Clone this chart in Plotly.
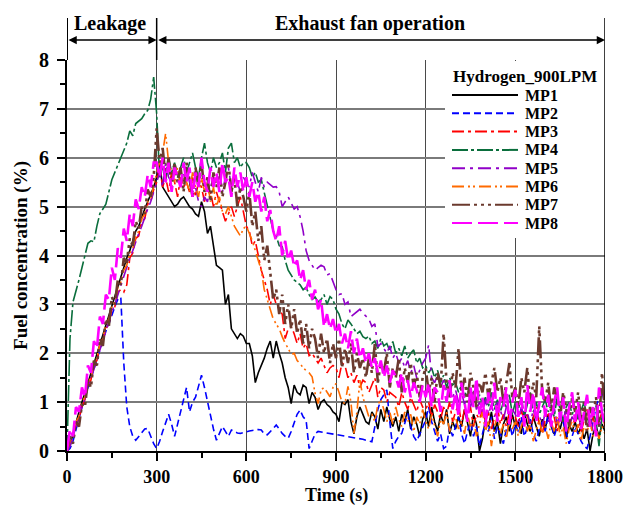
import plotly.graph_objects as go

# Sampling grid (s)
TIME_S = list(range(0, 1801, 10))

# Fuel concentration (%) at each measuring point, one value per 10 s
MP1 = [
    0.0, 0.1, 0.35, 0.6, 0.8, 1.0, 1.2, 1.4, 1.55, 1.8,
    2.0, 2.15, 2.35, 2.55, 2.8, 2.95, 3.2, 3.35, 3.55, 3.75,
    3.95, 4.1, 4.3, 4.5, 4.6, 4.8, 4.95, 5.1, 5.25, 5.4,
    5.6, 5.9, 5.4, 5.3, 5.2, 5.1, 5.0, 5.05, 5.15, 5.2,
    5.1, 5.0, 4.95, 4.85, 4.8, 5.1, 4.9, 4.45, 4.6, 4.2,
    3.8, 3.75, 3.7, 3.0, 3.2, 2.5, 2.4, 2.3, 2.4, 2.35,
    2.2, 2.2, 1.95, 1.4, 1.6, 1.75, 1.9, 2.1, 2.25, 1.9,
    2.25, 2.0, 1.8, 1.5, 1.3, 0.97, 1.35, 1.2, 1.15, 1.35,
    1.3, 0.97, 1.2, 1.1, 0.85, 1.0, 1.05, 0.95, 0.9, 0.8,
    0.75, 0.6, 1.0, 0.95, 1.05, 0.6, 0.35, 0.7, 0.9, 0.75,
    0.6, 0.55, 0.8, 0.7, 0.45, 0.85, 0.6, 0.9, 0.65, 0.5,
    0.7, 0.4, 0.75, 0.6, 0.85, 0.45, 0.7, 0.55, 0.3, 0.65,
    0.8, 0.5, 0.9, 0.6, 0.4, 0.75, 0.55, 0.85, 0.35, 0.6,
    0.45, 0.7, 0.5, 0.85, 0.6, 0.3, 0.75, 0.55, 0.0, 0.25,
    0.65, 0.5, 0.8, 0.4, 0.6, 0.15, 0.55, 0.7, 0.4, 0.75,
    0.5, 0.6, 0.35, 0.8, 0.55, 0.4, 0.7, 0.5, 0.3, 0.65,
    0.45, 0.75, 0.5, 0.35, 0.6, 0.45, 0.7, 0.25, 0.55, 0.4,
    0.6, 0.35, 0.5, 0.25, 0.45, 0.0, 0.35, 0.5, 0.3, 0.55,
    0.4,
]

MP2 = [
    0.0, 0.05, 0.2, 0.45, 0.7, 0.9, 1.1, 1.3, 1.5, 1.7,
    1.9, 2.05, 2.25, 2.45, 2.6, 2.8, 2.95, 3.1, 3.15, 1.8,
    0.9, 0.5, 0.3, 0.22, 0.3, 0.38, 0.45, 0.46, 0.3, 0.15,
    0.05, 0.2, 0.4, 0.6, 0.75, 0.55, 0.3, 0.55, 0.8, 1.05,
    1.3, 0.8, 1.0, 1.1, 1.35, 1.55, 1.3, 1.0, 0.7, 0.45,
    0.22, 0.35, 0.5, 0.4, 0.3, 0.43, 0.4, 0.37, 0.36, 0.38,
    0.4, 0.41, 0.42, 0.43, 0.44, 0.43, 0.35, 0.33, 0.4, 0.47,
    0.53, 0.45, 0.36, 0.3, 0.26, 0.4, 0.6, 0.75, 0.84, 0.7,
    0.63, 0.05, 0.2, 0.35, 0.4, 0.39, 0.38, 0.37, 0.36, 0.35,
    0.34, 0.33, 0.32, 0.31, 0.3, 0.28, 0.27, 0.26, 0.25, 0.24,
    0.22, 0.2, 0.19, 0.5, 0.85, 1.05, 1.15, 1.25, 0.6, 0.05,
    0.2, 0.3, 0.36, 0.55, 0.77, 0.5, 0.3, 0.2, 0.35, 0.5,
    0.63, 0.9, 0.6, 0.4, 0.2, 0.35, 0.05, 0.1, 0.5, 0.3,
    0.5, 0.7, 0.35, 0.15, 0.4, 0.6, 0.3, 0.5, 0.1, 0.35,
    0.6, 0.4, 0.7, 0.25, 0.5, 0.35, 0.15, 0.45, 0.6, 0.3,
    0.55, 0.4, 0.7, 0.3, 0.5, 0.65, 0.35, 0.2, 0.45, 0.6,
    0.4, 0.75, 0.55, 0.3, 0.5, 0.8, 0.6, 0.35, 0.15, 0.3,
    0.5, 0.35, 0.2, 0.1, 0.05, 0.3, 0.6, 0.9, 1.1, 1.25,
    0.9,
]

MP3 = [
    0.0, 0.15, 0.25, 0.55, 0.65, 0.9, 1.05, 1.35, 1.45, 1.8,
    1.85, 2.15, 2.25, 2.5, 2.6, 2.9, 2.95, 3.25, 3.3, 3.25,
    3.4, 3.95, 4.05, 4.35, 4.4, 4.7, 4.75, 5.05, 5.1, 5.35,
    5.5, 5.8, 5.4, 5.6, 5.3, 5.7, 5.5, 5.2, 5.6, 5.4,
    5.5, 5.3, 5.6, 5.2, 5.5, 5.4, 5.1, 5.5, 5.3, 5.0,
    5.3, 5.1, 4.9, 4.7, 4.85, 5.0, 4.8, 5.0, 5.2, 4.9,
    4.6, 4.5, 4.2, 4.3, 4.0, 3.7, 3.5, 3.3, 3.0, 3.2,
    3.0, 2.9, 2.8, 2.3, 2.5, 2.55, 2.4, 2.2, 2.4, 2.1,
    2.2, 1.95, 2.0, 1.9, 1.8, 1.9, 1.75, 1.6, 1.7, 1.75,
    1.7, 1.5, 1.8, 1.75, 1.5, 1.6, 1.4, 1.55, 1.3, 1.45,
    1.4, 1.2, 1.35, 1.5, 1.1, 1.3, 1.25, 1.0, 1.2, 1.15,
    1.1, 0.9, 1.2, 1.0, 0.85, 1.1, 0.95, 0.8, 1.05, 0.9,
    0.85, 1.0, 0.7, 0.95, 0.8, 0.65, 0.9, 0.75, 1.0, 0.6,
    0.8, 0.95, 0.55, 0.85, 0.7, 0.9, 0.5, 0.75, 0.65, 0.85,
    0.6, 0.8, 0.45, 0.7, 0.9, 0.55, 0.75, 0.5, 0.8, 0.65,
    0.7, 0.5, 0.85, 0.6, 0.75, 0.45, 0.7, 0.9, 0.55, 0.35,
    0.65, 0.8, 0.5, 0.7, 0.4, 0.75, 0.6, 0.85, 0.5, 0.7,
    0.55, 0.75, 0.4, 0.65, 0.85, 0.5, 0.7, 0.45, 0.6, 0.8,
    0.5,
]

MP4 = [
    0.0, 2.3, 3.05, 3.25, 3.5, 3.75, 4.0, 4.25, 4.3, 4.28,
    4.6, 4.86, 4.95, 5.05, 5.3, 5.55, 5.7, 5.85, 6.0, 6.15,
    6.3, 6.55, 6.45, 6.7, 6.75, 6.8, 6.9, 6.97, 7.2, 7.65,
    6.9, 5.6, 5.8, 5.5, 6.0, 5.7, 5.9, 5.6, 5.8, 6.0,
    5.7, 5.9, 6.1, 5.8, 5.6, 6.0, 6.3, 5.9, 5.7, 6.0,
    5.8, 5.9, 6.1, 5.7, 6.2, 6.3, 5.9, 6.0, 5.8, 5.9,
    5.9, 5.8, 5.6, 5.7, 5.5, 5.55, 5.3, 5.0, 4.8, 4.5,
    4.4, 4.2, 4.18, 3.9, 3.7, 3.6, 3.5, 3.45, 3.4, 3.3,
    3.35, 3.2, 3.1, 3.15, 3.05, 3.1, 3.2, 3.0, 3.16, 3.1,
    2.9, 2.8, 2.6, 2.5, 2.68, 2.6, 2.5, 2.4, 2.45, 2.34,
    2.3, 2.35, 2.2, 2.25, 2.1, 2.3, 2.15, 2.2, 2.05, 2.24,
    2.0, 2.1, 1.95, 2.15, 1.9, 2.0, 2.07, 1.8, 1.9, 1.7,
    1.75, 1.6, 1.7, 1.5, 1.65, 1.4, 1.55, 1.3, 1.5, 1.35,
    1.4, 1.2, 1.35, 1.1, 1.3, 1.0, 1.25, 1.05, 1.15, 0.95,
    1.1, 0.9, 1.2, 0.85, 1.05, 0.8, 1.0, 0.9, 1.15, 0.75,
    1.0, 0.85, 1.1, 0.7, 0.95, 1.2, 0.8, 1.0, 0.75, 0.9,
    1.05, 0.8, 0.95, 0.7, 1.1, 0.85, 0.6, 0.9, 1.0, 0.75,
    0.9, 0.65, 0.85, 1.0, 0.7, 0.5, 0.8, 0.6, 0.1, 0.7,
    0.9,
]

MP5 = [
    0.0, 0.1, 0.3, 0.5, 0.7, 0.9, 1.1, 1.3, 1.5, 1.7,
    1.9, 2.1, 2.3, 2.45, 2.65, 2.85, 3.0, 3.2, 3.4, 3.55,
    3.75, 3.95, 4.1, 4.3, 4.45, 4.6, 4.8, 4.95, 5.1, 5.3,
    5.5, 5.7, 5.4, 5.9, 5.6, 5.5, 5.8, 5.6, 5.4, 5.7,
    5.8, 5.5, 5.3, 5.4, 5.1, 5.0, 5.2, 5.1, 5.4, 5.6,
    5.5, 5.7, 5.3, 5.6, 5.8, 5.4, 5.6, 5.5, 5.3, 5.6,
    5.5, 5.4, 5.7, 5.5, 5.3, 5.6, 5.4, 5.5, 5.45, 5.4,
    5.41, 5.3, 5.0, 5.1, 5.2, 5.07, 4.95, 5.0, 4.79, 4.5,
    4.1, 3.9, 3.8, 3.7, 3.75, 3.8, 3.77, 3.6, 3.63, 3.45,
    3.3, 3.2, 3.22, 3.0, 3.05, 2.75, 2.8, 2.85, 2.9, 2.82,
    2.75, 2.7, 2.55, 2.6, 2.13, 2.2, 2.1, 2.0, 2.15, 1.9,
    2.0, 1.8, 1.9, 1.7, 1.85, 1.6, 1.75, 1.5, 1.65, 1.8,
    1.9, 2.17, 1.5, 1.4, 1.55, 1.3, 1.45, 1.2, 1.35, 1.1,
    1.25, 1.0, 1.2, 0.95, 1.15, 0.9, 1.1, 0.85, 1.0, 0.8,
    1.05, 0.75, 0.95, 0.7, 1.0, 0.8, 0.65, 0.9, 0.7, 0.85,
    0.75, 0.6, 0.9, 0.7, 0.8, 0.55, 0.85, 0.65, 0.75, 0.5,
    0.8, 0.6, 0.7, 0.9, 0.55, 0.75, 0.65, 0.85, 0.5, 0.7,
    0.6, 0.8, 0.45, 0.7, 0.55, 0.75, 0.4, 0.65, 0.5, 0.7,
    0.6,
]

MP6 = [
    0.0, 0.2, 0.3, 0.6, 0.7, 1.0, 1.1, 1.4, 1.5, 1.8,
    1.9, 2.2, 2.3, 2.6, 2.7, 2.95, 3.05, 3.35, 3.45, 3.7,
    3.8, 4.05, 4.15, 4.4, 4.5, 4.75, 4.85, 5.1, 5.15, 5.45,
    5.7, 5.9, 6.1, 6.5, 5.9, 5.7, 5.5, 5.8, 5.4, 5.6,
    5.5, 5.3, 5.7, 5.4, 5.2, 5.6, 5.3, 5.5, 5.1, 5.4,
    5.0, 5.2, 4.9, 4.85, 5.0, 4.8, 4.6, 4.5, 4.4, 4.55,
    4.6, 4.45, 4.3, 4.1, 3.9, 3.7, 3.3, 3.09, 2.9, 2.7,
    2.6, 2.5, 2.34, 2.2, 2.1, 1.98, 2.0, 1.85, 1.79, 1.7,
    1.65, 1.6, 1.52, 1.18, 0.97, 1.25, 1.3, 1.2, 1.11, 1.3,
    1.38, 1.2, 1.0, 0.97, 1.32, 1.0, 0.36, 0.8, 1.45, 1.1,
    0.9, 0.7, 0.75, 0.6, 0.95, 1.05, 0.85, 0.6, 0.8, 0.55,
    0.9, 0.65, 0.5, 0.8, 0.6, 0.75, 0.4, 0.7, 0.55, 0.85,
    0.6, 0.45, 0.75, 0.5, 0.3, 0.65, 0.55, 0.8, 0.4, 0.6,
    0.7, 0.45, 0.6, 0.35, 0.75, 0.5, 0.65, 0.3, 0.55, 0.8,
    0.4, 0.6, 0.1, 0.5, 0.7, 0.35, 0.55, 0.25, 0.65, 0.45,
    0.6, 0.3, 0.5, 0.7, 0.4, 0.55, 0.2, 0.45, 0.65, 0.35,
    0.5, 0.25, 0.6, 0.4, 0.7, 0.3, 0.5, 0.15, 0.45, 0.6,
    0.35, 0.55, 0.2, 0.5, 0.4, 0.6, 0.3, 0.45, 0.25, 0.5,
    0.35,
]

MP7 = [
    0.0, 0.3, 0.15, 0.6, 0.5, 0.95, 0.9, 1.45, 1.3, 1.85,
    1.75, 2.3, 2.15, 2.7, 2.55, 3.15, 3.0, 3.5, 3.4, 3.95,
    3.85, 4.35, 4.2, 4.7, 4.55, 5.0, 4.85, 5.35, 5.2, 5.6,
    6.6, 5.9, 6.2, 5.6, 6.0, 5.4, 5.9, 5.5, 5.8, 5.3,
    5.9, 5.5, 5.2, 5.8, 5.4, 5.9, 5.3, 5.6, 5.1, 5.7,
    5.4, 5.8, 5.2, 5.5, 5.9, 5.3, 5.6, 5.0, 5.4, 5.2,
    4.9, 5.3, 4.6, 4.9, 4.3, 4.6, 3.9, 4.2, 3.6, 3.1,
    3.3, 2.8, 3.2, 2.6, 3.0, 2.5, 2.9, 2.4, 2.7, 2.2,
    2.6, 2.1, 2.5, 2.3, 1.9, 2.4, 2.0, 2.3, 1.8, 2.2,
    1.9, 2.3, 1.7, 2.1, 1.8, 2.2, 1.6, 2.0, 1.7, 1.9,
    1.5, 1.9, 1.6, 2.2, 1.4, 1.8, 1.6, 2.0, 1.3, 1.7,
    1.5, 1.9, 1.2, 1.7, 1.4, 1.8, 1.3, 1.6, 1.1, 1.5,
    1.7, 1.2, 1.5, 1.0, 1.6, 1.3, 2.4, 1.4, 1.1, 1.6,
    1.3, 2.1, 1.2, 1.5, 1.0, 1.6, 1.3, 0.9, 1.4, 1.2,
    1.6, 1.1, 1.4, 1.7, 1.2, 1.5, 1.0, 1.4, 1.8, 1.1,
    1.3, 0.9, 1.5, 1.2, 1.7, 1.0, 1.4, 1.1, 2.55, 1.2,
    1.0, 1.4, 0.8, 1.3, 1.1, 0.7, 1.2, 0.9, 0.5, 1.1,
    0.8, 1.2, 0.6, 1.0, 0.4, 0.9, 0.7, 1.1, 0.5, 1.6,
    0.8,
]

MP8 = [
    0.0, 0.45, 0.3, 0.9, 0.8, 1.3, 1.1, 1.75, 1.6, 2.25,
    2.1, 2.75, 2.6, 3.2, 3.1, 3.75, 3.5, 4.15, 3.95, 4.55,
    4.3, 4.85, 4.6, 5.15, 4.95, 5.4, 5.2, 5.65, 5.4, 5.9,
    5.9, 5.6, 6.0, 5.5, 5.9, 5.3, 5.8, 5.6, 5.4, 5.9,
    5.5, 5.8, 5.2, 5.7, 5.4, 6.0, 5.5, 5.3, 5.8, 5.4,
    5.7, 5.3, 5.9, 5.5, 5.6, 5.2, 5.8, 5.4, 5.7, 5.3,
    5.6, 5.2, 5.5, 5.1, 5.3, 4.9, 5.2, 4.7, 4.93, 4.5,
    4.3, 4.6, 4.0, 4.3, 3.9, 4.1, 3.77, 3.9, 3.5, 3.7,
    3.3, 3.5, 3.1, 3.3, 2.9, 3.1, 2.54, 2.8, 2.5, 2.7,
    2.4, 2.6, 2.2, 2.4, 2.1, 2.45, 2.0, 2.3, 1.9, 2.1,
    1.8, 2.0, 1.7, 1.9, 1.6, 1.85, 1.5, 1.75, 1.4, 1.65,
    1.52, 1.3, 1.6, 1.2, 1.45, 1.1, 1.4, 1.25, 1.0, 1.35,
    1.1, 1.4, 0.9, 1.3, 1.2, 0.8, 1.35, 1.0, 1.45, 0.85,
    1.2, 0.7, 1.4, 1.0, 0.6, 1.3, 0.9, 1.5, 0.75, 1.1,
    0.5, 1.2, 0.85, 1.4, 0.6, 1.1, 0.9, 1.3, 0.55, 1.0,
    1.25, 0.7, 1.1, 0.5, 1.35, 0.8, 1.2, 0.6, 1.0, 1.3,
    0.7, 1.15, 0.5, 1.0, 1.3, 0.6, 1.1, 0.4, 0.9, 1.2,
    0.6, 1.0, 0.45, 0.85, 1.15, 0.5, 0.9, 0.3, 1.3, 0.8,
    0.5,
]

SERIES_NAMES = ["MP1", "MP2", "MP3", "MP4", "MP5", "MP6", "MP7", "MP8"]
SERIES_VALUES = [MP1, MP2, MP3, MP4, MP5, MP6, MP7, MP8]
SERIES_COLORS = ["#000000", "#0000FF", "#FF0000", "#0A6E3C",
                 "#9000C8", "#FF6A00", "#6B3A2E", "#FF00FF"]
SERIES_DASHES = [
    "solid",
    "7px,4px",
    "12px,4px,3px,4px",
    "16px,3px,3px,3px",
    "13px,5px,3px,5px",
    "12px,4px,2px,3px,2px,4px",
    "18px,4px,3px,4px,3px,4px,3px,4px",
    "20px,6px",
]
SERIES_WIDTHS = [1.6, 1.6, 1.6, 1.6, 1.6, 1.6, 2.6, 2.6]

PHASE_LABELS = ["Leakage", "Exhaust fan operation"]
PHASE_BOUNDS = [0, 300, 1800]
LEGEND_TITLE = "Hydrogen_900LPM"
X_TITLE = "Time (s)"
Y_TITLE = "Fuel concentration (%)"

for vals in SERIES_VALUES:
    assert len(vals) == len(TIME_S), len(vals)

FONT = "Liberation Serif, Times New Roman, serif"
W, H = 635, 506
ML, MR, MT, MB = 67, 30, 60, 55
PW, PH = W - ML - MR, H - MT - MB


def paper_x(px):
    return (px - ML) / PW


def paper_y(py):
    return (H - MB - py) / PH


fig = go.Figure()
for name, vals, color, dash, width in zip(SERIES_NAMES, SERIES_VALUES,
                                          SERIES_COLORS, SERIES_DASHES,
                                          SERIES_WIDTHS):
    fig.add_trace(go.Scatter(
        x=TIME_S, y=vals, mode="lines", name=name,
        line=dict(color=color, dash=dash, width=width),
        showlegend=False,
    ))

shapes = []
annotations = []

# white legend panel (top right, inside the plot area)
shapes.append(dict(type="rect", xref="paper", yref="paper",
                   x0=paper_x(445), x1=1.0, y0=paper_y(238), y1=paper_y(61),
                   fillcolor="white", line=dict(width=0), layer="above"))

# legend title
annotations.append(dict(xref="paper", yref="paper", x=paper_x(525), y=paper_y(76),
                        text=LEGEND_TITLE, showarrow=False,
                        xanchor="center", yanchor="middle",
                        font=dict(family=FONT, size=17, color="black", weight="bold")))

row_y0, row_step = 95.0, 18.3
for i, (name, color, dash) in enumerate(zip(SERIES_NAMES, SERIES_COLORS, SERIES_DASHES)):
    yy = paper_y(row_y0 + i * row_step)
    shapes.append(dict(type="line", xref="paper", yref="paper",
                       x0=paper_x(452), x1=paper_x(518), y0=yy, y1=yy,
                       line=dict(color=color, dash=dash, width=2.0),
                       layer="above"))
    annotations.append(dict(xref="paper", yref="paper", x=paper_x(523), y=yy,
                            text=name, showarrow=False,
                            xanchor="left", yanchor="middle",
                            font=dict(family=FONT, size=16, color="black", weight="bold")))

# phase divider lines above the plot area and right frame line
top_y = paper_y(18)
for xb in PHASE_BOUNDS[:2]:
    shapes.append(dict(type="line", xref="x", yref="paper",
                       x0=xb, x1=xb, y0=1.0, y1=top_y,
                       line=dict(color="black", width=2 if xb == 0 else 1.5),
                       layer="above"))
shapes.append(dict(type="line", xref="x", yref="paper",
                   x0=PHASE_BOUNDS[-1], x1=PHASE_BOUNDS[-1],
                   y0=paper_y(461), y1=top_y,
                   line=dict(color="black", width=1.5), layer="above"))

# double-headed arrows spanning each phase, with phase names above
arrow_y = paper_y(40)
text_y = paper_y(23)
for label, a, b in zip(PHASE_LABELS, PHASE_BOUNDS[:-1], PHASE_BOUNDS[1:]):
    annotations.append(dict(xref="x", yref="paper", x=b, y=arrow_y,
                            axref="x", ayref="pixel", ax=a, ay=0,
                            text="", showarrow=True, arrowside="end+start",
                            arrowhead=2, arrowsize=1.1, arrowwidth=1.5,
                            arrowcolor="black", standoff=0, startstandoff=0))
annotations.append(dict(xref="paper", yref="paper", x=paper_x(110), y=text_y,
                        text=PHASE_LABELS[0], showarrow=False,
                        xanchor="center", yanchor="middle",
                        font=dict(family=FONT, size=20, color="black", weight="bold")))
annotations.append(dict(xref="paper", yref="paper", x=paper_x(370), y=text_y,
                        text=PHASE_LABELS[1], showarrow=False,
                        xanchor="center", yanchor="middle",
                        font=dict(family=FONT, size=20, color="black", weight="bold")))

x_tick_font = dict(family=FONT, size=18, color="black", weight="bold")
y_tick_font = dict(family=FONT, size=20, color="black", weight="bold")
title_font = dict(family=FONT, size=19, color="black", weight="bold")

# x-axis title placed just under the tick labels
annotations.append(dict(xref="paper", yref="paper", x=0.5, y=paper_y(507),
                        text=X_TITLE, showarrow=False, borderpad=0,
                        xanchor="center", yanchor="bottom",
                        font=dict(family=FONT, size=18, color="black", weight="bold")))

fig.update_layout(
    width=W, height=H,
    margin=dict(l=ML, r=MR, t=MT, b=MB, pad=0, autoexpand=False),
    paper_bgcolor="white", plot_bgcolor="white",
    showlegend=False,
    shapes=shapes,
    annotations=annotations,
    xaxis=dict(
        range=[0, 1800], tick0=0, dtick=300,
        ticks="outside", ticklen=8, tickwidth=2, tickcolor="black",
        showline=True, linewidth=2, linecolor="black",
        showgrid=True, gridcolor="#4a4a4a", gridwidth=1.4,
        zeroline=False, automargin=False,
        ticklabelstandoff=0,
        minor=dict(dtick=150, ticks="outside", ticklen=5, tickwidth=2,
                   tickcolor="black", showgrid=False),
        tickfont=x_tick_font,
    ),
    yaxis=dict(
        range=[0, 8], tick0=0, dtick=1,
        ticks="outside", ticklen=8, tickwidth=2, tickcolor="black",
        showline=True, linewidth=2, linecolor="black",
        showgrid=True, gridcolor="#7a7a7a", gridwidth=1.6,
        zeroline=False, automargin=False,
        ticklabelstandoff=4,
        minor=dict(dtick=0.5, ticks="outside", ticklen=5, tickwidth=2,
                   tickcolor="black", showgrid=False),
        tickfont=y_tick_font,
        title=dict(text=Y_TITLE, font=title_font, standoff=6),
    ),
)

fig.write_html("out.html")
